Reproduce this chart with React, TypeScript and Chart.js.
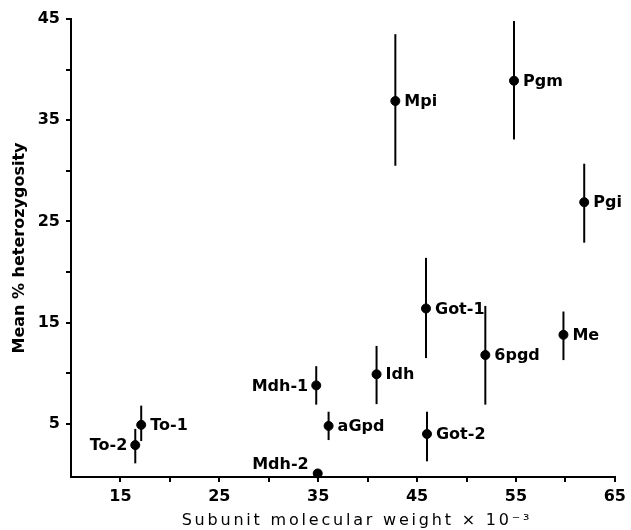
import React, { useEffect, useRef } from "react";
import { Chart, registerables } from "chart.js";

Chart.register(...registerables);

// ---- data ----
const enzymes = ["Mpi", "Pgm", "Pgi", "Got-1", "6pgd", "Me", "Idh", "Mdh-1", "aGpd", "Got-2", "To-1", "To-2", "Mdh-2"];
const molWeight = [42.8, 54.8, 61.9, 45.9, 51.9, 59.8, 40.9, 34.8, 36.05, 46.0, 17.1, 16.5, 34.95];
const heterozygosity = [36.9, 38.9, 26.9, 16.4, 11.8, 13.8, 9.9, 8.8, 4.8, 4.0, 4.9, 2.9, 0.1];
const errLow: (number | null)[] = [30.5, 33.1, 22.9, 11.5, 6.9, 11.3, 6.95, 6.9, 3.4, 1.3, 3.3, 1.1, null];
const errHigh: (number | null)[] = [43.5, 44.8, 30.7, 21.4, 16.65, 16.1, 12.7, 10.7, 6.2, 6.2, 6.8, 4.5, null];

const xTicks = [15, 20, 25, 30, 35, 40, 45, 50, 55, 60, 65];
const yTicks = [5, 10, 15, 20, 25, 30, 35, 40, 45];
const xLabelled = [15, 25, 35, 45, 55, 65];
const yLabelled = [5, 15, 25, 35, 45];

// label placement (style, not data)
const labelSide = ["right", "right", "right", "right", "right", "right", "right", "left", "right", "right", "right", "left", "aboveLeft"];

const xTitle = "Subunit molecular weight \u00D7 10\u207B\u00B3";
const yTitle = "Mean % heterozygosity";

const FONT = '"DejaVu Sans", sans-serif';

const annotatePlugin = {
  id: "annotate",
  beforeDatasetsDraw(chart: any) {
    const { ctx, scales } = chart;
    const x = scales.x, y = scales.y;
    ctx.save();
    ctx.strokeStyle = "#000";
    ctx.lineWidth = 2;
    molWeight.forEach((mw, i) => {
      const lo = errLow[i], hi = errHigh[i];
      if (lo == null || hi == null) return;
      const px = x.getPixelForValue(mw);
      ctx.beginPath();
      ctx.moveTo(px, y.getPixelForValue(hi));
      ctx.lineTo(px, y.getPixelForValue(lo));
      ctx.stroke();
    });
    ctx.restore();
  },
  afterDatasetsDraw(chart: any) {
    const { ctx, scales } = chart;
    const x = scales.x, y = scales.y;
    ctx.save();
    ctx.fillStyle = "#000";
    ctx.font = `bold 16px ${FONT}`;
    ctx.textBaseline = "middle";
    enzymes.forEach((name, i) => {
      const px = x.getPixelForValue(molWeight[i]);
      const py = y.getPixelForValue(heterozygosity[i]);
      const side = labelSide[i];
      if (side === "right") {
        ctx.textAlign = "left";
        ctx.fillText(name, px + 9, py + 1);
      } else if (side === "left") {
        ctx.textAlign = "right";
        ctx.fillText(name, px - 8, py + 1);
      } else {
        ctx.textAlign = "right";
        ctx.fillText(name, px - 9, py - 9);
      }
    });
    ctx.restore();
  },
  afterDraw(chart: any) {
    const { ctx, chartArea } = chart;
    ctx.save();
    ctx.fillStyle = "#000";
    ctx.font = `16px ${FONT}`;
    (ctx as any).letterSpacing = "2.8px";
    ctx.textAlign = "center";
    ctx.textBaseline = "middle";
    const cx = (chartArea.left + chartArea.right) / 2 + 14;
    ctx.fillText(xTitle, cx, 521);
    ctx.restore();
  },
};

export default function App() {
  const ref = useRef<HTMLCanvasElement | null>(null);
  useEffect(() => {
    if (!ref.current) return;
    const points = molWeight.map((mw, i) => ({ x: mw, y: heterozygosity[i] }));
    const chart = new Chart(ref.current, {
      type: "scatter",
      data: {
        datasets: [
          {
            data: points,
            backgroundColor: "#000",
            borderColor: "#000",
            pointRadius: 4.5,
            pointHoverRadius: 4.5,
            clip: false as any,
          },
        ],
      },
      options: {
        responsive: false,
        animation: false,
        devicePixelRatio: 1,
        layout: { padding: { top: 19, right: 11, bottom: 0, left: 0 } },
        plugins: { legend: { display: false }, tooltip: { enabled: false } },
        scales: {
          x: {
            type: "linear",
            min: 10,
            max: 65,
            afterFit: (s: any) => { s.height = 53; },
            afterBuildTicks: (s: any) => { s.ticks = xTicks.map((v) => ({ value: v })); },
            border: { display: true, color: "#000", width: 2 },
            grid: { display: true, drawOnChartArea: false, drawTicks: true, tickLength: 5, color: "#000", lineWidth: 2 },
            ticks: {
              autoSkip: false,
              maxRotation: 0,
              padding: 5,
              color: "#000",
              font: { family: FONT, size: 16, weight: "bold" },
              callback: (v: any) => (xLabelled.includes(Number(v)) ? String(v) : ""),
            },
          },
          y: {
            type: "linear",
            min: -0.25,
            max: 45,
            afterFit: (s: any) => { s.width = 71; },
            afterBuildTicks: (s: any) => { s.ticks = yTicks.map((v) => ({ value: v })); },
            border: { display: true, color: "#000", width: 2 },
            grid: { display: true, drawOnChartArea: false, drawTicks: true, tickLength: 5, color: "#000", lineWidth: 2 },
            title: {
              display: true,
              text: yTitle,
              color: "#000",
              font: { family: FONT, size: 16, weight: "bold" },
              padding: { top: 10, bottom: 0 },
            },
            ticks: {
              autoSkip: false,
              padding: 6,
              color: "#000",
              font: { family: FONT, size: 16, weight: "bold" },
              callback: (v: any) => (yLabelled.includes(Number(v)) ? String(v) : ""),
            },
          },
        },
      },
      plugins: [annotatePlugin],
    });
    return () => chart.destroy();
  }, []);

  return (
    <div style={{ position: "fixed", left: 0, top: 0, width: 631, height: 530, background: "#fff" }}>
      <canvas ref={ref} width={631} height={530} style={{ display: "block" }} />
    </div>
  );
}
